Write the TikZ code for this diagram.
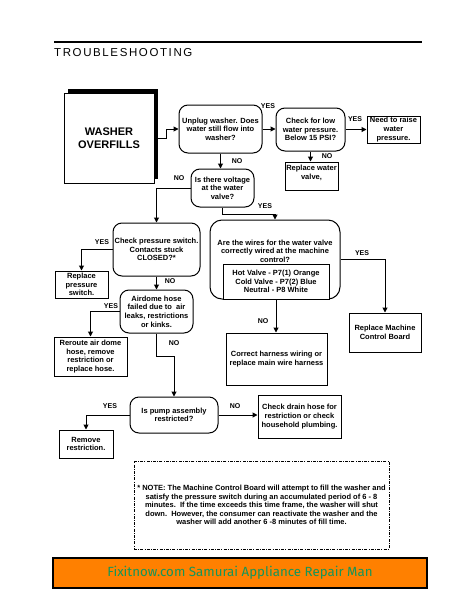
\documentclass[tikz,border=0pt]{standalone}
\usepackage{fontspec}
\setmainfont{Liberation Sans}
\newfontfamily\titlefont[LetterSpace=14]{Liberation Sans}
\newfontfamily\footfont{Fira Sans}
\usetikzlibrary{arrows.meta,shadows}
\definecolor{footorange}{RGB}{255,128,0}
\definecolor{footgreen}{RGB}{20,150,90}
\newcommand\bodyfnt{\fontsize{7.5}{8.6}\selectfont\bfseries}
\newcommand\notefnt{\fontsize{7.5}{8.5}\selectfont\bfseries}
\newcommand\lblfnt{\fontsize{7}{8}\selectfont\bfseries}
\tikzset{
  basebox/.style={draw, line width=1pt, align=center, inner sep=0pt, font=\bodyfnt},
  rbox/.style={basebox, rounded corners=9pt},
  sbox/.style={basebox},
  lbl/.style={font=\lblfnt, inner sep=0pt},
  arr/.style={line width=1pt, -{Triangle[length=5pt,width=5pt]}},
}
\begin{document}
\begin{tikzpicture}[x=1pt,y=-1pt]
\useasboundingbox (0,0) rectangle (463,600);
\fill[white] (0,0) rectangle (463,600);
% title
\draw[line width=1.3pt] (54,42) -- (422,42);
\node[anchor=base west, inner sep=0pt, font=\titlefont\fontsize{11.5}{13}\selectfont] (title) at (54,56) {TROUBLESHOOTING};
% nodes
\node[sbox, minimum width=90pt, minimum height=90pt, font=\fontsize{11}{13}\selectfont\bfseries,
      drop shadow={shadow xshift=4pt, shadow yshift=4pt, fill=black, opacity=1}, fill=white] (washer) at (109,138) {WASHER\\OVERFILLS};
\node[rbox, minimum width=83pt, minimum height=48pt] (unplug) at (220.5,129) {Unplug washer. Does\\water still flow into\\washer?};
\node[rbox, minimum width=69pt, minimum height=43pt] (check) at (310.5,129.5) {Check for low\\water pressure.\\Below 15 PSI?};
\node[sbox, minimum width=53pt, minimum height=27pt] (need) at (393.5,129.5) {Need to raise\\water\\pressure.};
\node[sbox, minimum width=53pt, minimum height=28pt] (replw) at (311.5,176) {Replace water\\valve,\\[-1pt]};
\node[rbox, minimum width=63pt, minimum height=38pt] (volt) at (222.5,188) {Is there voltage\\at the water\\valve?};
\node[rbox, rounded corners=12pt, minimum width=130pt, minimum height=79pt] (wires) at (275,259.5) {};
\node[font=\bodyfnt, align=center, inner sep=0pt] (wirestxt) at (275,251) {Are the wires for the water valve\\correctly wired at the machine\\control?};
\node[sbox, fill=white, minimum width=106pt, minimum height=35pt] (inner) at (276,281.5) {Hot Valve - P7(1) Orange\\Cold Valve - P7(2) Blue\\Neutral - P8 White};
\node[sbox, minimum width=72pt, minimum height=39pt] (mcb) at (385,332.5) {Replace Machine\\Control Board};
\node[sbox, minimum width=101pt, minimum height=52pt] (harness) at (276.5,359) {Correct harness wiring or\\replace main wire harness};
\node[rbox, minimum width=87pt, minimum height=53pt] (press) at (156.5,249.5) {Check pressure switch.\\Contacts stuck\\CLOSED?*};
\node[sbox, minimum width=53pt, minimum height=27pt] (replp) at (81.5,284.5) {Replace\\pressure\\switch.};
\node[rbox, minimum width=73pt, minimum height=43pt] (airdome) at (156.5,311.5) {Airdome hose\\failed due to\ \ air\\leaks, restrictions\\or kinks.};
\node[sbox, minimum width=73pt, minimum height=39pt] (reroute) at (90.5,356.5) {Reroute air dome\\hose, remove\\restriction or\\replace hose.};
\node[rbox, minimum width=88pt, minimum height=36pt] (pump) at (174,415) {Is pump assembly\\restricted?};
\node[sbox, minimum width=54pt, minimum height=28pt] (remove) at (86,444) {Remove\\restriction.};
\node[sbox, minimum width=83pt, minimum height=43pt] (drain) at (299.5,416.5) {Check drain hose for\\restriction or check\\household plumbing.};
\node[draw, line width=0.8pt, dash pattern=on 3pt off 1.2pt on 1pt off 1.2pt, minimum width=255pt, minimum height=88pt,
      inner sep=0pt, align=center, font=\notefnt] (note) at (261.5,505) {* NOTE: The Machine Control Board will attempt to fill the washer and\\satisfy the pressure switch during an accumulated period of 6 - 8\\minutes.\ \ If the time exceeds this time frame, the washer will shut\\down.\ \ However, the consumer can reactivate the washer and the\\washer will add another 6 -8 minutes of fill time.};
\node[draw, line width=1.6pt, fill=footorange, minimum width=374pt, minimum height=30pt, inner sep=0pt,
      text=footgreen, font=\footfont\fontsize{13.3}{15}\selectfont] (footer) at (240,573) {Fixitnow.com Samurai Appliance Repair Man};
% connectors
\draw[arr] (washer.east) -- ++(12,0) |- (unplug.west);
\draw[arr] (unplug.east) -- (unplug.east -| check.west);
\node[lbl] (l1) at (268,106) {YES};
\draw[arr] (check.east) -- (check.east -| need.west);
\node[lbl] (l2) at (355,119) {YES};
\draw[arr] (check.south) -- (check.south |- replw.north);
\node[lbl] (l3) at (327,156) {NO};
\draw[arr] (unplug.south) -- (unplug.south |- volt.north);
\node[lbl] (l4) at (237,161) {NO};
\draw[arr] (volt.west) -| (press.north);
\node[lbl] (l5) at (179,178) {NO};
\draw[arr] (volt.south) -- ++(0,7) -| (wires.north);
\node[lbl] (l6) at (265,206) {YES};
\draw[arr] (wires.east) -| (mcb.north);
\node[lbl] (l7) at (362,253) {YES};
\draw[arr] (inner.south) -- (inner.south |- harness.north);
\node[lbl] (l8) at (263,321) {NO};
\draw[arr] (press.west) -| (replp.north);
\node[lbl] (l9) at (102,242) {YES};
\draw[arr] (press.south) -- (airdome.north);
\node[lbl] (l10) at (170,281) {NO};
\draw[arr] (airdome.west) -| (reroute.north);
\node[lbl] (l11) at (111,306) {YES};
\draw[arr] (airdome.south) -- ++(0,23) -| (pump.north);
\node[lbl] (l12) at (174,343) {NO};
\draw[arr] (pump.west) -| (remove.north);
\node[lbl] (l13) at (110,406) {YES};
\draw[arr] (pump.east) -- (pump.east -| drain.west);
\node[lbl] (l14) at (235,406) {NO};
\end{tikzpicture}
\end{document}
